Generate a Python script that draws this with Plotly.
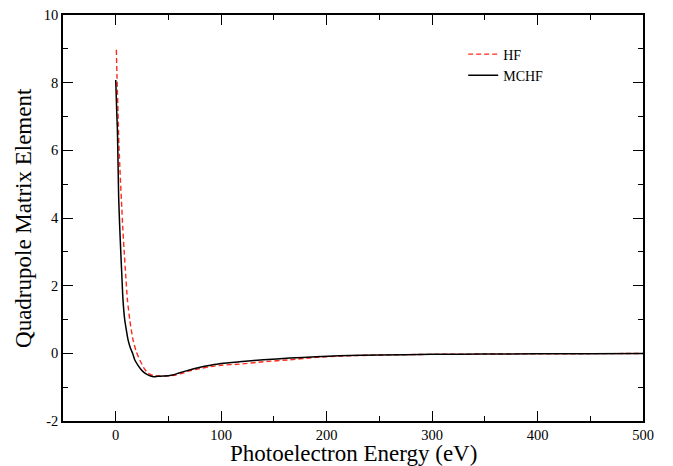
import plotly.graph_objects as go

# MCHF series (photoelectron energy in eV, quadrupole matrix element)
mchf_x = [0, 0.5, 1, 1.6, 2.2, 2.8, 3.7, 4.7, 5.8, 6.9, 8.5, 10, 11.7, 14, 16, 18, 21, 24, 27, 30,
          33, 36, 40, 45, 50, 55, 60, 70, 80, 90, 100, 117, 140, 165, 190, 212, 250, 300, 350, 400, 450, 500]
mchf_y = [8.08, 7.6, 7.1, 6.6, 5.6, 4.6, 3.8, 3.06, 2.3, 1.58, 1.0, 0.7, 0.40, 0.15, 0.0, -0.19, -0.35,
          -0.48, -0.57, -0.63, -0.67, -0.69, -0.68, -0.67, -0.66, -0.63, -0.58, -0.49, -0.41, -0.35, -0.30,
          -0.25, -0.19, -0.14, -0.10, -0.07, -0.05, -0.03, -0.02, -0.015, -0.01, -0.005]

# HF series
hf_x = [0.6, 1.2, 2.2, 3, 4.2, 5.4, 6.6, 7.9, 9.5, 11.1, 13.5, 16.4, 19.5, 22.7, 26.5, 30.6, 34, 37, 42,
        48, 55, 62, 70, 80, 90, 100, 117, 140, 165, 190, 215, 250, 300, 350, 400, 450, 500]
hf_y = [8.97, 8.2, 7.1, 6.2, 5.3, 4.53, 3.75, 3.06, 2.3, 1.58, 0.95, 0.40, 0.05, -0.19, -0.42, -0.59,
        -0.64, -0.66, -0.67, -0.67, -0.65, -0.60, -0.52, -0.45, -0.39, -0.35, -0.32, -0.25, -0.19, -0.12,
        -0.08, -0.05, -0.03, -0.02, -0.015, -0.01, -0.005]

x_ticks = [0, 100, 200, 300, 400, 500]
y_ticks = [-2, 0, 2, 4, 6, 8, 10]

x_title = "Photoelectron Energy (eV)"
y_title = "Quadrupole Matrix Element"

FONT = "'Liberation Serif', 'Times New Roman', serif"

fig = go.Figure()
fig.add_trace(go.Scatter(x=hf_x, y=hf_y, mode="lines", name="HF",
                         line=dict(color="#ff2a1a", width=1.4, dash="5px,3px",
                                   shape="spline", smoothing=0.6)))
fig.add_trace(go.Scatter(x=mchf_x, y=mchf_y, mode="lines", name="MCHF",
                         line=dict(color="black", width=1.5, shape="spline", smoothing=0.6)))

axis_common = dict(showgrid=False, zeroline=False, showline=True, linecolor="black", linewidth=1.5,
                   mirror="ticks", ticks="inside", ticklen=10, tickwidth=1.3, tickcolor="black",
                   automargin=False,
                   tickfont=dict(family=FONT, size=14.5, color="black"))

fig.update_xaxes(range=[-50, 500], tickvals=x_ticks, ticktext=[str(v) for v in x_ticks],
                 minor=dict(dtick=50, tick0=0, ticks="inside", ticklen=5, tickwidth=1.3, tickcolor="black"),
                 **axis_common)
fig.update_yaxes(range=[-2, 10], tickvals=y_ticks, ticktext=[str(v) for v in y_ticks],
                 minor=dict(dtick=1, tick0=0, ticks="inside", ticklen=5, tickwidth=1.3, tickcolor="black"),
                 **axis_common)

fig.add_annotation(text=x_title, xref="paper", yref="paper", x=0.5, y=-0.079,
                   xanchor="center", yanchor="middle", showarrow=False,
                   font=dict(family=FONT, size=23, color="black"))
fig.add_annotation(text=y_title, xref="paper", yref="paper", x=-0.069, y=0.5,
                   xanchor="center", yanchor="middle", showarrow=False, textangle=-90,
                   font=dict(family=FONT, size=23, color="black"))

fig.update_layout(
    width=673, height=466,
    margin=dict(l=63, r=30, t=15, b=45),
    plot_bgcolor="white", paper_bgcolor="white",
    showlegend=True,
    legend=dict(x=0.69, y=0.942, xanchor="left", yanchor="top", bgcolor="rgba(0,0,0,0)",
                font=dict(family=FONT, size=14, color="black"), itemwidth=30,
                tracegroupgap=0),
)

# remove the page's default body margin so the 673x466 figure fills the window exactly
fig.write_html("out.html", config={"displayModeBar": False},
               post_script="document.body.style.margin='0';document.body.style.overflow='hidden';")
